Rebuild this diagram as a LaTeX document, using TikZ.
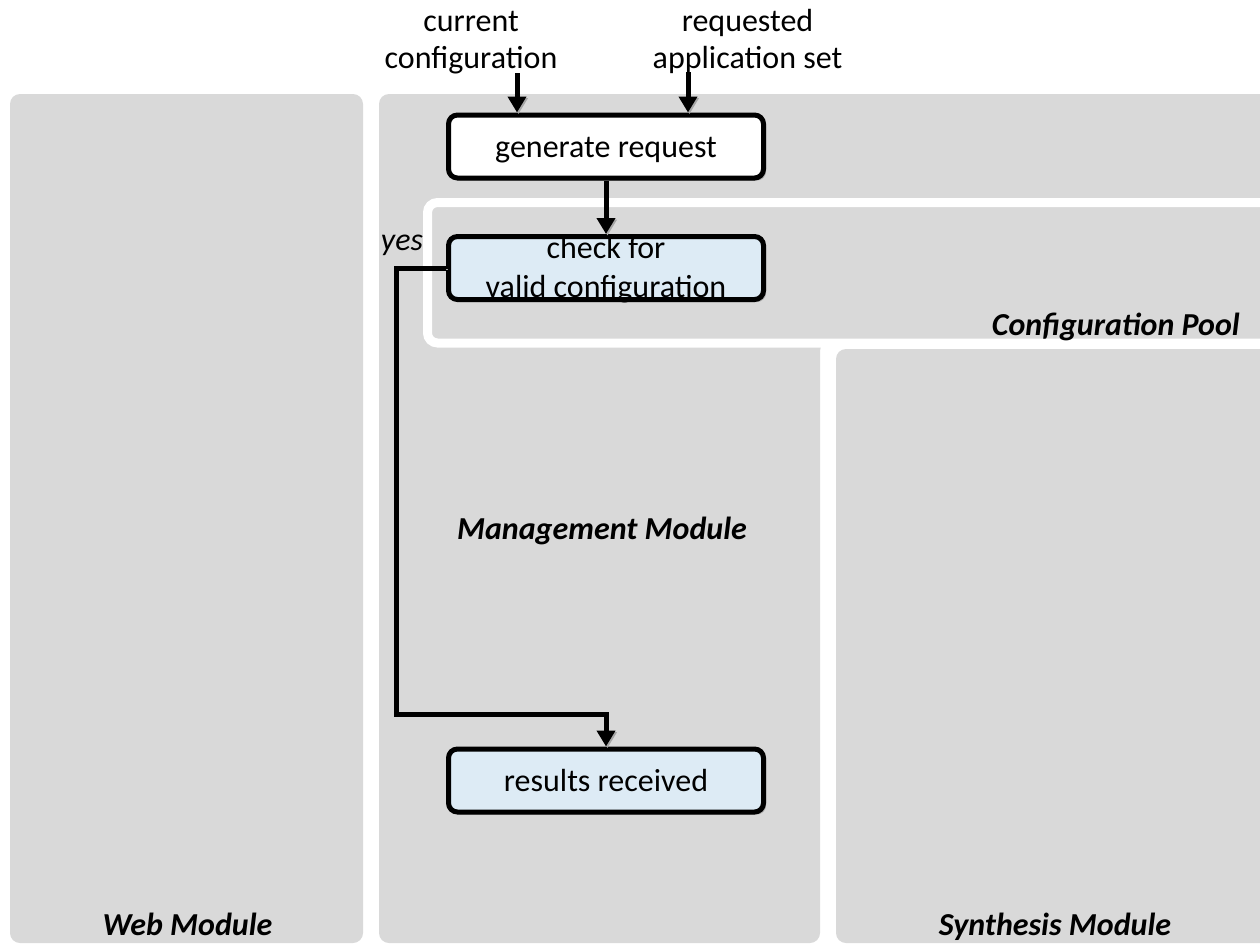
\documentclass[tikz,border=0pt]{standalone}
\usepackage{fontspec}
\setmainfont{Carlito}
\usetikzlibrary{arrows.meta,shadows}
\definecolor{panelgrey}{HTML}{D9D9D9}
\definecolor{stepblue}{HTML}{DDEBF5}
\begin{document}
\begin{tikzpicture}[x=1pt,y=-1pt,
  panel/.style={fill=panelgrey, rounded corners=10pt},
  framedpanel/.style={panel, draw=white, line width=9pt},
  stepbox/.style={draw=black, line width=5pt, rounded corners=9pt,
    minimum width=315pt, minimum height=63pt, inner sep=0pt,
    font=\fontsize{32}{38}\selectfont, text height=30.5pt, text depth=8.6pt,
    drop shadow={shadow xshift=2.5pt, shadow yshift=-2.5pt, fill=black!45, opacity=0.6}},
  conn/.style={line width=5pt, -{Triangle[width=18pt,length=16pt]},
    preaction={draw=black!35, transform canvas={shift={(1.5pt,-1.5pt)}}}},
  bodytext/.style={font=\fontsize{32}{37}\selectfont, align=center, inner sep=0pt},
  modlabel/.style={font=\fontsize{32}{38}\selectfont\bfseries\itshape, inner sep=0pt, anchor=base}
]
\useasboundingbox (0,0) rectangle (1260,943);

% module panels
\fill[panel] (10,94) rectangle (363,943);
\fill[panel] (379,94) -- (1290,94) -- (1290,341) -- (820,341) -- (820,943) -- (379,943) -- cycle;
\fill[panel] (836,349) rectangle (1290,943);
\filldraw[framedpanel] (427.5,202.5) rectangle (1290,343);

% module names
\node[modlabel] (web) at (187.5,935) {Web Module};
\node[modlabel] (synth) at (1055,935) {Synthesis Module};
\node[modlabel] (mgmt) at (602,539) {Management Module};
\node[modlabel, anchor=base east] (pool) at (1240,335) {Configuration Pool};

% flow steps
\node[stepbox, fill=white] (gen) at (606,146.5) {generate request};
\node[stepbox, fill=stepblue] (check) at (606,268) {};
\node[bodytext, font=\fontsize{32}{39}\selectfont, anchor=base] (checktxt) at (606,297) {check for\\valid configuration};
\node[stepbox, fill=stepblue] (res) at (606,780.5) {results received};

% inputs (anchored on the baseline of the second line)
\node[bodytext, anchor=base] (curlbl) at (471,68) {current\\configuration};
\node[bodytext, anchor=base] (reqlbl) at (747.5,68) {requested\\application set};
\coordinate (curin) at (517,73);
\coordinate (reqin) at (688,72);
\coordinate (ybend) at (396.5,714.5);

% connectors
\draw[conn] (curin) -- (curin |- gen.north);
\draw[conn] (reqin) -- (reqin |- gen.north);
\draw[conn] (gen) -- (check);
\draw[conn] (check.west) -| (ybend) -| (res.north);
\node[font=\fontsize{32}{38}\selectfont\itshape, inner sep=0pt, anchor=base] (yes) at (402,250) {yes};
\end{tikzpicture}
\end{document}
